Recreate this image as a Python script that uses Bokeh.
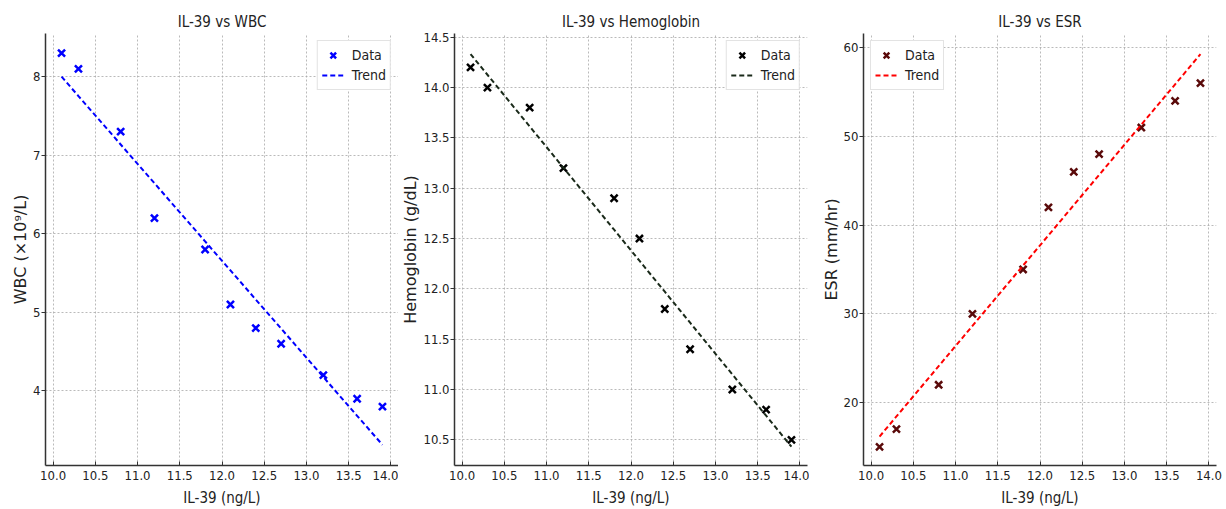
import numpy as np
from bokeh.plotting import figure
from bokeh.layouts import row
from bokeh.models import FixedTicker, NumeralTickFormatter, Range1d, Legend, LegendItem
from bokeh.embed import file_html
from bokeh.resources import INLINE

# ---- data ----
il39 = [10.1, 10.3, 10.8, 11.2, 11.8, 12.1, 12.4, 12.7, 13.2, 13.6, 13.9]
wbc = [8.3, 8.1, 7.3, 6.2, 5.8, 5.1, 4.8, 4.6, 4.2, 3.9, 3.8]
hemoglobin = [14.2, 14.0, 13.8, 13.2, 12.9, 12.5, 11.8, 11.4, 11.0, 10.8, 10.5]
esr = [15, 17, 22, 30, 35, 42, 46, 48, 51, 54, 56]

x_ticks = [10.0, 10.5, 11.0, 11.5, 12.0, 12.5, 13.0, 13.5, 14.0]
wbc_ticks = [4, 5, 6, 7, 8]
hb_ticks = [10.5, 11.0, 11.5, 12.0, 12.5, 13.0, 13.5, 14.0, 14.5]
esr_ticks = [20, 30, 40, 50, 60]

NARROW = "'Liberation Sans Narrow', 'DejaVu Sans Condensed', sans-serif"
WIDE = "DejaVu Sans"
FW, FH = 353, 432


def panel(title, ylabel, y, yticks, yfmt, mcolor, lcolor, legend_loc, yr, bl, br):
    p = figure(output_backend="svg", toolbar_location=None,
               frame_width=FW, frame_height=FH,
               x_range=Range1d(9.91, 14.09), y_range=Range1d(*yr),
               min_border_left=bl, min_border_right=br,
               min_border_top=33, min_border_bottom=44)
    p.outline_line_color = None
    p.background_fill_color = "white"
    p.border_fill_color = "white"

    p.title.text = title
    p.title.align = "center"
    p.title.text_font = NARROW
    p.title.text_font_size = "15px"
    p.title.text_font_style = "normal"
    p.title.text_color = "#222222"
    p.title.standoff = 6

    for ax in (p.xaxis[0], p.yaxis[0]):
        ax.minor_tick_line_color = None
        ax.axis_line_color = "#333333"
        ax.axis_line_width = 1.5
        ax.major_tick_line_color = "#333333"
        ax.major_tick_line_width = 1
        ax.major_label_text_font = NARROW
        ax.major_label_text_font_size = "13px"
        ax.major_label_text_color = "#222222"

    p.xaxis.major_tick_in = 4
    p.xaxis.major_tick_out = 0
    p.xaxis.major_label_standoff = 5
    p.yaxis.major_tick_in = 0
    p.yaxis.major_tick_out = 4
    p.yaxis.major_label_standoff = 1

    p.xaxis.ticker = FixedTicker(ticks=x_ticks)
    p.xaxis.formatter = NumeralTickFormatter(format="0.0")
    p.xaxis.axis_label = "IL-39 (ng/L)"
    p.xaxis.axis_label_text_font = NARROW
    p.xaxis.axis_label_text_font_size = "15px"
    p.xaxis.axis_label_text_font_style = "normal"
    p.xaxis.axis_label_text_color = "#222222"
    p.xaxis.axis_label_standoff = 6

    p.yaxis.ticker = FixedTicker(ticks=yticks)
    p.yaxis.formatter = NumeralTickFormatter(format=yfmt)
    p.yaxis.axis_label = ylabel
    p.yaxis.axis_label_text_font = WIDE
    p.yaxis.axis_label_text_font_size = "16px"
    p.yaxis.axis_label_text_font_style = "normal"
    p.yaxis.axis_label_text_color = "#222222"
    p.yaxis.axis_label_standoff = 0

    for g in (p.xgrid[0], p.ygrid[0]):
        g.grid_line_color = "#a8a8a8"
        g.grid_line_dash = "2 2"
        g.grid_line_width = 0.8
    p.xgrid.ticker = FixedTicker(ticks=x_ticks)
    p.ygrid.ticker = FixedTicker(ticks=yticks)

    xs = np.array(il39)
    slope, icpt = np.polyfit(xs, np.array(y, dtype=float), 1)
    trend = slope * xs + icpt

    sc = p.scatter(il39, y, marker="x", size=10, line_width=2.5, color=mcolor)
    ln = p.line(il39, trend, line_dash="5 3", line_width=2, color=lcolor)

    leg = Legend(items=[LegendItem(label="Data", renderers=[sc]),
                        LegendItem(label="Trend", renderers=[ln])],
                 location=legend_loc)
    leg.label_text_font = NARROW
    leg.label_text_font_size = "14px"
    leg.label_text_color = "#222222"
    leg.border_line_color = "#c8c8c8"
    leg.border_line_width = 1.2
    leg.background_fill_alpha = 1.0
    leg.glyph_width = 22
    leg.glyph_height = 20
    leg.label_standoff = 8
    leg.spacing = 0
    leg.padding = 4
    leg.margin = 7
    p.add_layout(leg)
    return p


p1 = panel("IL-39 vs WBC", "WBC (×10⁹/L)", wbc, wbc_ticks, "0",
           "#0000ff", "#0000ff", "top_right", (3.05, 8.55), 45, 0)
p2 = panel("IL-39 vs Hemoglobin", "Hemoglobin (g/dL)", hemoglobin, hb_ticks, "0.0",
           "#000000", "#1a2a1a", "top_right", (10.245, 14.537), 52, 2)
p3 = panel("IL-39 vs ESR", "ESR (mm/hr)", esr, esr_ticks, "0",
           "#5a0a0a", "#ff0000", "top_left", (12.9, 61.6), 54, 6)

layout = row(p1, p2, p3)
open("out.html", "w").write(file_html(layout, INLINE))
